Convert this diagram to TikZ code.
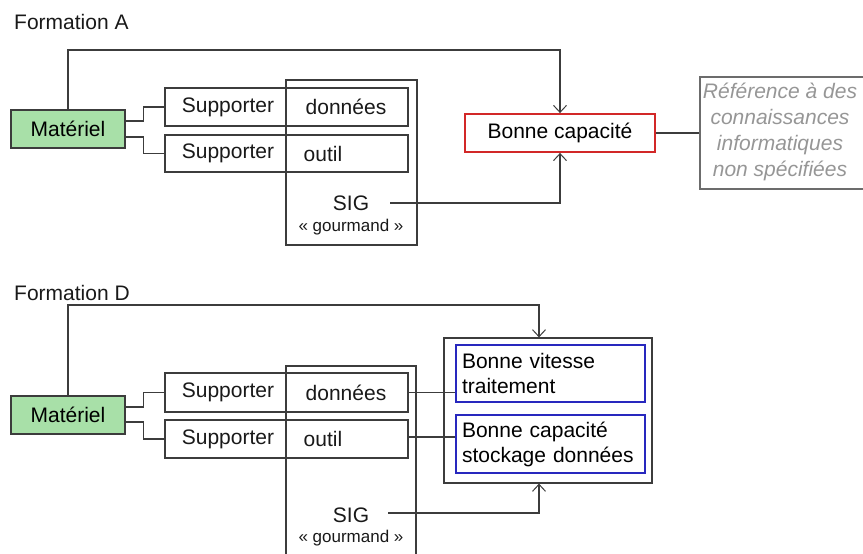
\documentclass[tikz,border=0pt]{standalone}
\usepackage{fontspec}
\setmainfont{Liberation Sans}
\usetikzlibrary{arrows.meta,calc}
\definecolor{matgreen}{RGB}{168,224,168}
\definecolor{linegray}{RGB}{60,60,60}
\definecolor{refgray}{RGB}{150,150,150}
\definecolor{redb}{RGB}{210,40,40}
\definecolor{blueb}{RGB}{40,40,190}
\begin{document}
\begin{tikzpicture}[x=1pt,y=-1pt,
  txt/.style={inner sep=0pt, font=\fontsize{21}{25}\selectfont, text=black!90},
  small/.style={inner sep=0pt, font=\fontsize{17}{20}\selectfont, text=black!90},
  boxnode/.style={draw=linegray, line width=1.2pt, inner sep=0pt, font=\fontsize{21}{25}\selectfont},
  matbox/.style={boxnode, fill=matgreen, minimum width=114pt, minimum height=38pt},
  supbox/.style={boxnode, minimum width=243pt},
  conn/.style={draw=linegray, line width=1.2pt},
  arr/.style={conn, -{Straight Barb[length=7pt,width=13pt,line width=1pt]}},
  bluebox/.style={boxnode, draw=blueb, line width=1.8pt, minimum height=57pt, text width=177pt, inner xsep=6pt, align=left}
]
\useasboundingbox (0,0) rectangle (863,554);
\clip (0,0) rectangle (863,554);

% ---------- Formation A ----------
\node[txt, anchor=west] (titleA) at (14,22) {Formation A};
\node[matbox] (mat1) at (68,129) {Matériel};
\node[supbox, minimum height=38pt] (sd1) at (286.5,107) {};
\node[supbox, minimum height=37pt] (so1) at (286.5,153.5) {};
\node[boxnode, minimum width=131pt, minimum height=165pt] (sig1) at (351.5,162.5) {};
\node[txt] (sd1a) at (228,107) {Supporter};
\node[txt] (sd1b) at (346,107) {données};
\node[txt] (so1a) at (228,153.5) {Supporter};
\node[txt] (so1b) at (323,153.5) {outil};
\node[txt] (sigt1) at (351,203) {SIG};
\node[small] (gour1) at (351,227) {« gourmand »};
\node[boxnode, draw=redb, line width=1.8pt, minimum width=190pt, minimum height=38pt] (bc1) at (560,133) {Bonne capacité};
\node[boxnode, draw=gray!85!black, minimum width=172pt, minimum height=112pt] (ref1) at (786,133) {};
\node[txt, text=refgray, font=\fontsize{21}{26}\selectfont\itshape, align=center] (reft1) at (780,132) {Référence à des\\connaissances\\informatiques\\non spécifiées};

\coordinate (topA) at (560,50);
\coordinate (sigsA) at (390,203);
\draw[arr] (mat1.north) |- (topA) -- (bc1.north);
\draw[arr] (sigsA) -| (bc1.south);
\draw[conn] ([yshift=8pt]mat1.east) -- ++(18,0) |- (sd1.west);
\draw[conn] ([yshift=-8pt]mat1.east) -- ++(18,0) |- (so1.west);
\draw[conn] (bc1.east) -- (ref1.west |- bc1.east);

% ---------- Formation D ----------
\node[txt, anchor=west] (titleD) at (14,293) {Formation D};
\node[matbox] (mat2) at (68,415) {Matériel};
\node[supbox, minimum height=39pt] (sd2) at (286.5,392.5) {};
\node[supbox, minimum height=38pt] (so2) at (286.5,439) {};
\node[boxnode, minimum width=130pt, minimum height=209pt] (sig2) at (351,470.5) {};
\node[txt] (sd2a) at (228,392.5) {Supporter};
\node[txt] (sd2b) at (346,392.5) {données};
\node[txt] (so2a) at (228,439) {Supporter};
\node[txt] (so2b) at (323,439) {outil};
\node[txt] (sigt2) at (351,515) {SIG};
\node[small] (gour2) at (351,538) {« gourmand »};
\node[boxnode, minimum width=208pt, minimum height=145pt] (outer) at (548,410.5) {};
\node[bluebox] (bv) at (550.5,373.5) {Bonne vitesse\\traitement};
\node[bluebox, minimum height=58pt] (bcs) at (550.5,444) {Bonne capacité\\stockage données};

\coordinate (topD) at (539,305);
\coordinate (sigsD) at (388,513);
\draw[arr] (mat2.north) |- (topD) -- (topD |- outer.north);
\draw[arr] (sigsD) -- (sigsD -| topD) -- (topD |- outer.south);
\draw[conn] ([yshift=8pt]mat2.east) -- ++(18,0) |- (sd2.west);
\draw[conn] ([yshift=-7pt]mat2.east) -- ++(18,0) |- (so2.west);
\draw[conn] (sd2.east) -- (sd2.east -| bv.west);
\draw[conn] ([yshift=2pt]so2.east) -- ([yshift=2pt]so2.east -| bcs.west);
\end{tikzpicture}
\end{document}
